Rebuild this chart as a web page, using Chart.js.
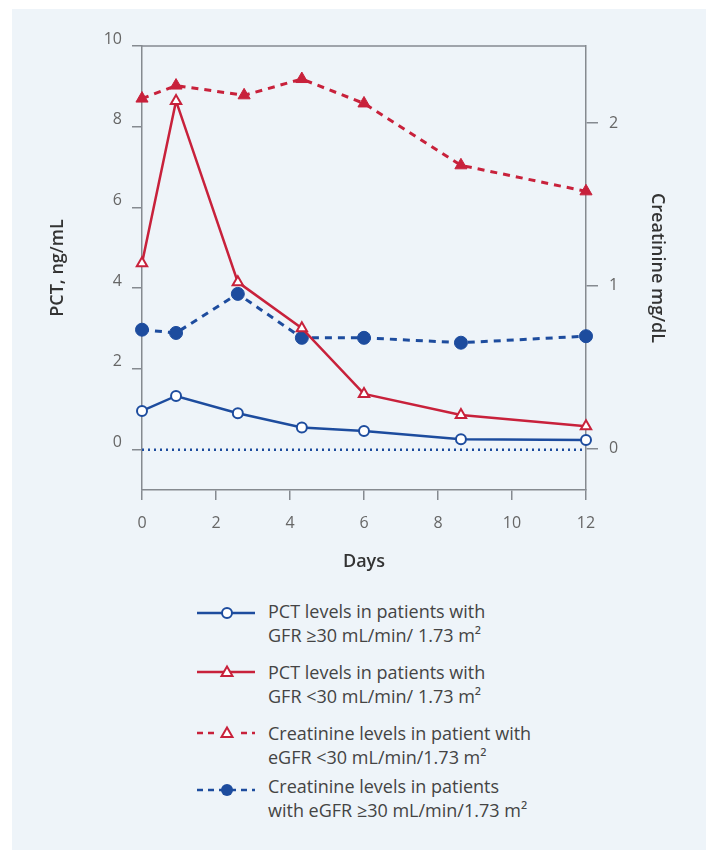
<!DOCTYPE html>
<html>
<head>
<meta charset="utf-8">
<script src="https://cdn.jsdelivr.net/npm/chart.js@4.4.1/dist/chart.umd.min.js"></script>
<style>
body{margin:0;background:#fff;font-family:"Open Sans",sans-serif;}
#panel{position:absolute;left:12px;top:9px;width:694px;height:841px;background:#eef4f9;}
#wrap{position:absolute;left:0;top:0;width:706px;height:580px;}
.item svg{position:absolute;left:196px;}
.item div{position:absolute;left:268px;font-size:18px;line-height:24px;color:#444;white-space:nowrap;}
</style>
</head>
<body>
<div id="panel"></div>
<div id="wrap"><canvas id="myChart"></canvas></div>

<div class="item">
  <svg style="top:605px" width="60" height="16"><line x1="1" y1="8" x2="59" y2="8" stroke="#1d4c9e" stroke-width="2.5"/><circle cx="31" cy="8" r="5" fill="#fff" stroke="#1d4c9e" stroke-width="2"/></svg>
  <div style="top:599px">PCT levels in patients with<br>GFR ≥30 mL/min/ 1.73 m²</div>
</div>
<div class="item">
  <svg style="top:664px" width="60" height="16"><line x1="1" y1="8" x2="59" y2="8" stroke="#c8213b" stroke-width="2.5"/><polygon points="31,2.5 36.5,12 25.5,12" fill="#fff" stroke="#c8213b" stroke-width="2"/></svg>
  <div style="top:660px">PCT levels in patients with<br>GFR &lt;30 mL/min/ 1.73 m²</div>
</div>
<div class="item">
  <svg style="top:725px" width="60" height="16"><line x1="1" y1="8" x2="59" y2="8" stroke="#c8213b" stroke-width="2.5" stroke-dasharray="6,5"/><rect x="22" y="0" width="18" height="16" fill="#eef4f9"/><polygon points="31,2.5 36.5,12 25.5,12" fill="#fff" stroke="#c8213b" stroke-width="2"/></svg>
  <div style="top:721px">Creatinine levels in patient with<br>eGFR &lt;30 mL/min/1.73 m²</div>
</div>
<div class="item">
  <svg style="top:782px" width="60" height="16"><line x1="1" y1="8" x2="59" y2="8" stroke="#1d4c9e" stroke-width="2.5" stroke-dasharray="6,5"/><circle cx="31" cy="8" r="6" fill="#1d4c9e"/></svg>
  <div style="top:774px">Creatinine levels in patients<br>with eGFR ≥30 mL/min/1.73 m²</div>
</div>

<script>
// days on the x axis (creatinine <30 third point sits a bit later)
const days = [0, 0.92, 2.59, 4.32, 6, 8.62, 12];
const daysCreatLow = [0, 0.92, 2.76, 4.32, 6, 8.62, 12];

const pctHighGfr = [0.96, 1.33, 0.90, 0.55, 0.46, 0.26, 0.24];
const pctLowGfr = [4.62, 8.64, 4.15, 3.01, 1.38, 0.86, 0.58];
const creatLowGfr = [2.15, 2.23, 2.17, 2.27, 2.12, 1.74, 1.58];
const creatHighGfr = [0.73, 0.71, 0.95, 0.68, 0.68, 0.65, 0.69];

const zeroDays = [0, 12];
const zeroLine = [0, 0];

const xTicks = [0, 2, 4, 6, 8, 10, 12];
const pctTicks = [0, 2, 4, 6, 8, 10];
const creatTicks = [0, 1, 2];

const blue = "#1d4c9e";
const red = "#c8213b";
const axisColor = "#858a90";

function pts(xs, ys){
  return xs.map(function(x, i){ return {x: x, y: ys[i]}; });
}

var topLine = {
  id: "topLine",
  beforeDatasetsDraw: function(chart){
    var a = chart.chartArea, c = chart.ctx;
    c.save();
    c.strokeStyle = axisColor;
    c.lineWidth = 1.5;
    c.beginPath();
    c.moveTo(a.left, a.top);
    c.lineTo(a.right, a.top);
    c.stroke();
    c.restore();
  }
};

var ctx = document.getElementById("myChart");
var data = {
  datasets: [{
    label: "PCT levels in patients with GFR ≥30 mL/min/ 1.73 m²",
    data: pts(days, pctHighGfr),
    yAxisID: "y",
    borderColor: blue,
    borderWidth: 2.5,
    pointStyle: "circle",
    pointRadius: 5,
    pointBackgroundColor: "#fff",
    pointBorderColor: blue,
    pointBorderWidth: 2
  }, {
    label: "PCT levels in patients with GFR <30 mL/min/ 1.73 m²",
    data: pts(days, pctLowGfr),
    yAxisID: "y",
    borderColor: red,
    borderWidth: 2.5,
    pointStyle: "triangle",
    pointRadius: 6,
    pointBackgroundColor: "#fff",
    pointBorderColor: red,
    pointBorderWidth: 2
  }, {
    label: "Creatinine levels in patient with eGFR <30 mL/min/1.73 m²",
    data: pts(daysCreatLow, creatLowGfr),
    yAxisID: "y1",
    borderColor: red,
    borderWidth: 3,
    borderDash: [7, 6],
    pointStyle: "triangle",
    pointRadius: 7,
    pointBackgroundColor: red,
    pointBorderColor: red,
    pointBorderWidth: 1
  }, {
    label: "Creatinine levels in patients with eGFR ≥30 mL/min/1.73 m²",
    data: pts(days, creatHighGfr),
    yAxisID: "y1",
    borderColor: blue,
    borderWidth: 3,
    borderDash: [7, 6],
    pointStyle: "circle",
    pointRadius: 6.5,
    pointBackgroundColor: blue,
    pointBorderColor: blue,
    pointBorderWidth: 1
  }, {
    label: "zero",
    data: pts(zeroDays, zeroLine),
    yAxisID: "y",
    borderColor: blue,
    borderWidth: 2.5,
    borderDash: [2, 4],
    pointRadius: 0
  }]
};

var options = {
  responsive: true,
  maintainAspectRatio: false,
  animation: false,
  layout: {padding: {left: 0, right: 0, top: 46, bottom: 0}},
  plugins: {legend: {display: false}, tooltip: {enabled: false}},
  elements: {line: {tension: 0}},
  datasets: {line: {clip: false}},
  scales: {
    x: {
      type: "linear",
      min: 0,
      max: 12,
      afterBuildTicks: function(s){ s.ticks = xTicks.map(function(v){ return {value: v}; }); },
      afterFit: function(s){ s.height = 90; },
      grid: {drawOnChartArea: false, tickLength: 10, color: axisColor, lineWidth: 1.5},
      border: {color: axisColor, width: 1.5},
      ticks: {padding: 14, color: "#666", font: {family: "Open Sans", size: 16}},
      title: {display: true, text: "Days", color: "#333", font: {family: "Open Sans", size: 18, weight: "600"}, padding: {top: 0, bottom: 7}}
    },
    y: {
      position: "left",
      min: -1,
      max: 10,
      afterBuildTicks: function(s){ s.ticks = pctTicks.map(function(v){ return {value: v}; }); },
      afterFit: function(s){ s.width = 142; },
      grid: {drawOnChartArea: false, tickLength: 10, color: axisColor, lineWidth: 1.5},
      border: {color: axisColor, width: 1.5},
      ticks: {padding: 10, labelOffset: -7, color: "#666", font: {family: "Open Sans", size: 16}},
      title: {display: true, text: "PCT, ng/mL", color: "#333", font: {family: "Open Sans", size: 18, weight: "600"}, padding: {top: 47, bottom: 0}}
    },
    y1: {
      position: "right",
      min: -0.255,
      max: 2.473,
      afterBuildTicks: function(s){ s.ticks = creatTicks.map(function(v){ return {value: v}; }); },
      afterFit: function(s){ s.width = 120; },
      grid: {drawOnChartArea: false, tickLength: 12, color: axisColor, lineWidth: 1.5},
      border: {color: axisColor, width: 1.5},
      ticks: {padding: 11, color: "#666", font: {family: "Open Sans", size: 16}},
      title: {display: true, text: "Creatinine mg/dL", color: "#333", font: {family: "Open Sans", size: 18, weight: "600"}, padding: {top: 38, bottom: 0}}
    }
  }
};

var myChart = new Chart(ctx, {
  type: "line",
  data: data,
  options: options,
  plugins: [topLine]
});
</script>
</body>
</html>
